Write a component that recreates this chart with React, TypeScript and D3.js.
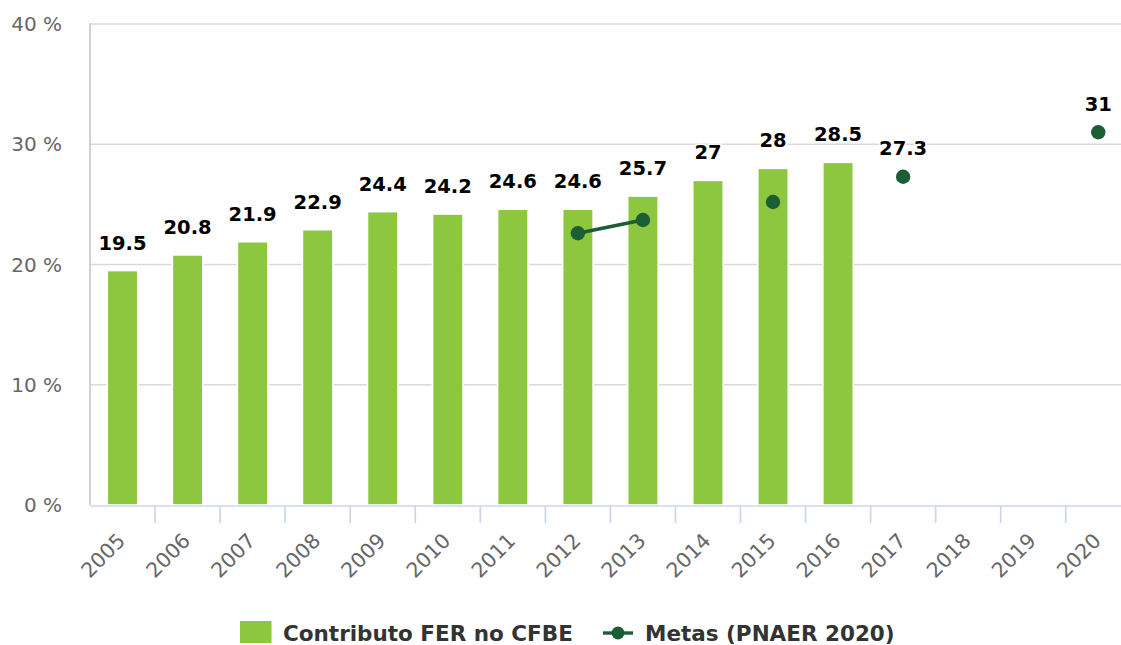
import React from "react";
import * as d3 from "d3";

const years = ["2005","2006","2007","2008","2009","2010","2011","2012","2013","2014","2015","2016","2017","2018","2019","2020"];
const contributo: (number | null)[] = [19.5, 20.8, 21.9, 22.9, 24.4, 24.2, 24.6, 24.6, 25.7, 27, 28, 28.5, null, null, null, null];
const metas: (number | null)[] = [null, null, null, null, null, null, null, 22.6, 23.7, null, 25.2, null, 27.3, null, null, 31];
const yTicks = [0, 10, 20, 30, 40];
const seriesNames = ["Contributo FER no CFBE", "Metas (PNAER 2020)"];

const W = 1121;
const H = 645;
const BAR = "#8dc63f";
const DOT = "#1b5e33";
const FONT = "'DejaVu Sans', Verdana, sans-serif";

export default function App() {
  const left = 90;
  const right = 1130.8;
  const top = 24;
  const bottom = 505;
  const x = d3.scaleBand<string>().domain(years).range([left, right]).padding(0);
  const y = d3.scaleLinear().domain([0, 40]).range([bottom, top]);
  const bw = x.bandwidth();
  const barW = bw * 0.47;
  const cx = (yr: string) => (x(yr) as number) + bw / 2;

  const line = d3
    .line<[string, number | null]>()
    .defined((d) => d[1] !== null)
    .x((d) => cx(d[0]))
    .y((d) => y(d[1] as number));
  const pairs: [string, number | null][] = years.map((yr, i) => [yr, metas[i]]);

  return (
    <svg width={W} height={H} style={{ position: "absolute", left: 0, top: 0, background: "#fff" }} fontFamily={FONT}>
      {yTicks.map((t) => (
        <line key={"g" + t} x1={left} x2={W} y1={y(t)} y2={y(t)} stroke={t === 0 ? "none" : "#d9d9d9"} strokeWidth={1.7} />
      ))}
      <line x1={left} x2={left} y1={top - 0.8} y2={bottom} stroke="#cccccc" strokeWidth={1.7} />
      {yTicks.map((t) => (
        <text key={"yl" + t} x={62} y={y(t)} dy="0.36em" textAnchor="end" fontSize={20} fill="#666666">
          {t + " %"}
        </text>
      ))}
      {years.map((yr, i) =>
        contributo[i] === null ? null : (
          <rect
            key={"b" + yr}
            x={cx(yr) - barW / 2}
            y={y(contributo[i] as number)}
            width={barW}
            height={bottom - y(contributo[i] as number)}
            fill={BAR}
            stroke="#ffffff"
            strokeWidth={1.7}
          />
        )
      )}
      <line x1={left} x2={W} y1={bottom + 1} y2={bottom + 1} stroke="#ccd6eb" strokeWidth={1.7} />
      {years.slice(1).map((yr) => (
        <line key={"t" + yr} x1={x(yr) as number} x2={x(yr) as number} y1={bottom + 1} y2={bottom + 18} stroke="#ccd6eb" strokeWidth={1.7} />
      ))}
      {years.map((yr) => (
        <text
          key={"xl" + yr}
          transform={`translate(${cx(yr) + 4},${bottom + 37}) rotate(-45)`}
          textAnchor="end"
          fontSize={20.5}
          fill="#666666"
        >
          {yr}
        </text>
      ))}
      <path d={line(pairs) || ""} fill="none" stroke={DOT} strokeWidth={3.4} />
      {years.map((yr, i) =>
        metas[i] === null ? null : <circle key={"c" + yr} cx={cx(yr)} cy={y(metas[i] as number)} r={7.2} fill={DOT} />
      )}
      {years.map((yr, i) =>
        contributo[i] === null ? null : (
          <text
            key={"bl" + yr}
            x={cx(yr)}
            y={y(contributo[i] as number) - 21}
            textAnchor="middle"
            fontSize={19.5}
            fontWeight="bold"
            fill="#000"
            stroke="#fff"
            strokeWidth={3}
            paintOrder="stroke"
          >
            {String(contributo[i])}
          </text>
        )
      )}
      {years.map((yr, i) =>
        metas[i] === null || contributo[i] !== null ? null : (
          <text
            key={"ml" + yr}
            x={cx(yr)}
            y={y(metas[i] as number) - 21.5}
            textAnchor="middle"
            fontSize={19.5}
            fontWeight="bold"
            fill="#000"
            stroke="#fff"
            strokeWidth={3}
            paintOrder="stroke"
          >
            {String(metas[i])}
          </text>
        )
      )}
      <rect x={240} y={621} width={31.5} height={22} fill={BAR} />
      <text x={283} y={633} dy="0.36em" fontSize={21.5} fontWeight="bold" fill="#333333">
        {seriesNames[0]}
      </text>
      <line x1={603} x2={633} y1={633} y2={633} stroke={DOT} strokeWidth={3.4} />
      <circle cx={618} cy={633} r={6.5} fill={DOT} />
      <text x={645} y={633} dy="0.36em" fontSize={21.5} fontWeight="bold" fill="#333333">
        {seriesNames[1]}
      </text>
    </svg>
  );
}
